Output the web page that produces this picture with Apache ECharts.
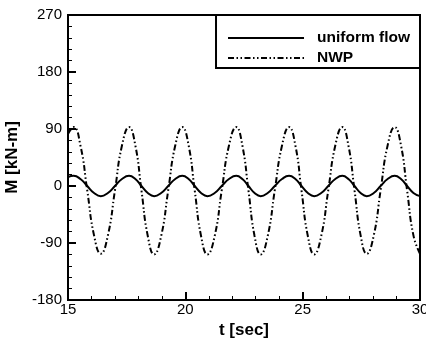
<!DOCTYPE html>
<html>
<head>
<meta charset="utf-8">
<script src="https://cdn.jsdelivr.net/npm/echarts@6/dist/echarts.min.js"></script>
<style>
  html, body { margin: 0; padding: 0; background: #fff; }
  #chart { width: 426px; height: 341px; }
</style>
</head>
<body>
<div id="chart"></div>
<script>
const times = [
  15.0, 15.24, 15.53, 15.82, 16.11, 16.40, 16.70, 17.00, 17.30,
  17.60, 17.87, 18.13, 18.40, 18.67, 18.97, 19.27, 19.57,
  19.87, 20.14, 20.40, 20.67, 20.94, 21.25, 21.55, 21.86,
  22.17, 22.43, 22.69, 22.95, 23.21, 23.51, 23.81, 24.12,
  24.42, 24.69, 24.95, 25.22, 25.49, 25.79, 26.09, 26.39,
  26.69, 26.95, 27.21, 27.47, 27.73, 28.03, 28.32, 28.62,
  28.92, 29.19, 29.45, 29.72, 30.0
]
// M [kN-m] for the uniform flow case
const uniformFlow = [
  14, 16, 11, 0, -11, -16, -11, 0, 11,
  16, 11, 0, -11, -16, -11, 0, 11,
  16, 11, 0, -11, -16, -11, 0, 11,
  16, 11, 0, -11, -16, -11, 0, 11,
  16, 11, 0, -11, -16, -11, 0, 11,
  16, 11, 0, -11, -16, -11, 0, 11,
  16, 11, 0, -11, -16
]
// M [kN-m] for the NWP case
const nwp = [
  82, 93, 64, -7, -78, -107, -78, -7, 64,
  93, 64, -7, -79, -108, -79, -7, 64,
  93, 64, -7, -79, -108, -79, -7, 64,
  93, 64, -7, -79, -108, -79, -7, 64,
  93, 64, -7, -79, -108, -79, -7, 64,
  93, 64, -7, -78, -107, -78, -7, 64,
  93, 64, -7, -78, -107
]
const xTicks = { min: 15, max: 30, interval: 5 }
const yTicks = { min: -180, max: 270, interval: 90 }

const font = 'Liberation Sans, Arial, sans-serif'
const pair = (vals) => times.map((t, i) => [t, vals[i]])

const chart = echarts.init(document.getElementById('chart'))

const axisCommon = {
  type: 'value',
  nameLocation: 'middle',
  nameTextStyle: { color: '#000', fontSize: 17, fontWeight: 'bold', fontFamily: font },
  axisLine: { show: true, onZero: false, lineStyle: { color: '#000', width: 2 } },
  axisTick: { show: true, inside: true, length: 8, lineStyle: { color: '#000', width: 2 } },
  minorTick: { show: true, splitNumber: 5, length: 4, lineStyle: { color: '#000', width: 1 } },
  splitLine: { show: false },
  axisLabel: { color: '#000', fontSize: 15, fontFamily: font },
}

const option = {
  backgroundColor: '#fff',
  animation: false,
  grid: {
    left: 68, right: 6, top: 15, bottom: 41,
    containLabel: false,
    outerBoundsMode: 'none',
    show: true, borderColor: '#000', borderWidth: 2,
  },
  xAxis: {
    ...axisCommon,
    ...xTicks,
    name: 't [sec]',
    nameGap: 21,
    axisLabel: { ...axisCommon.axisLabel, margin: 2 },
  },
  yAxis: {
    ...axisCommon,
    ...yTicks,
    name: 'M [kN-m]',
    nameGap: 45,
    axisLabel: { ...axisCommon.axisLabel, margin: 6 },
  },
  legend: {
    orient: 'vertical',
    right: 6,
    top: 15,
    align: 'left',
    backgroundColor: '#fff',
    borderColor: '#000',
    borderWidth: 2,
    borderRadius: 0,
    padding: [15, 10, 2, 11],
    itemWidth: 76,
    itemHeight: 14,
    itemGap: 4,
    // hide the marker that line legends add on top of the line sample
    itemStyle: { color: 'rgba(0,0,0,0)', borderColor: 'rgba(0,0,0,0)', borderWidth: 0 },
    textStyle: { color: '#000', fontSize: 15.5, fontWeight: 'bold', fontFamily: font, padding: [0, 0, 0, 8] },
    data: ['uniform flow', 'NWP'],
  },
  series: [
    {
      name: 'uniform flow',
      type: 'line',
      smooth: true,
      symbol: 'none',
      data: pair(uniformFlow),
      lineStyle: { color: '#000', width: 2 },
      itemStyle: { color: '#000' },
    },
    {
      name: 'NWP',
      type: 'line',
      smooth: true,
      symbol: 'none',
      data: pair(nwp),
      lineStyle: { color: '#000', width: 2, type: [6, 2.5, 1.5, 2.5, 1.5, 2.5] },
      itemStyle: { color: '#000' },
    },
  ],
}

chart.setOption(option)
</script>
</body>
</html>
